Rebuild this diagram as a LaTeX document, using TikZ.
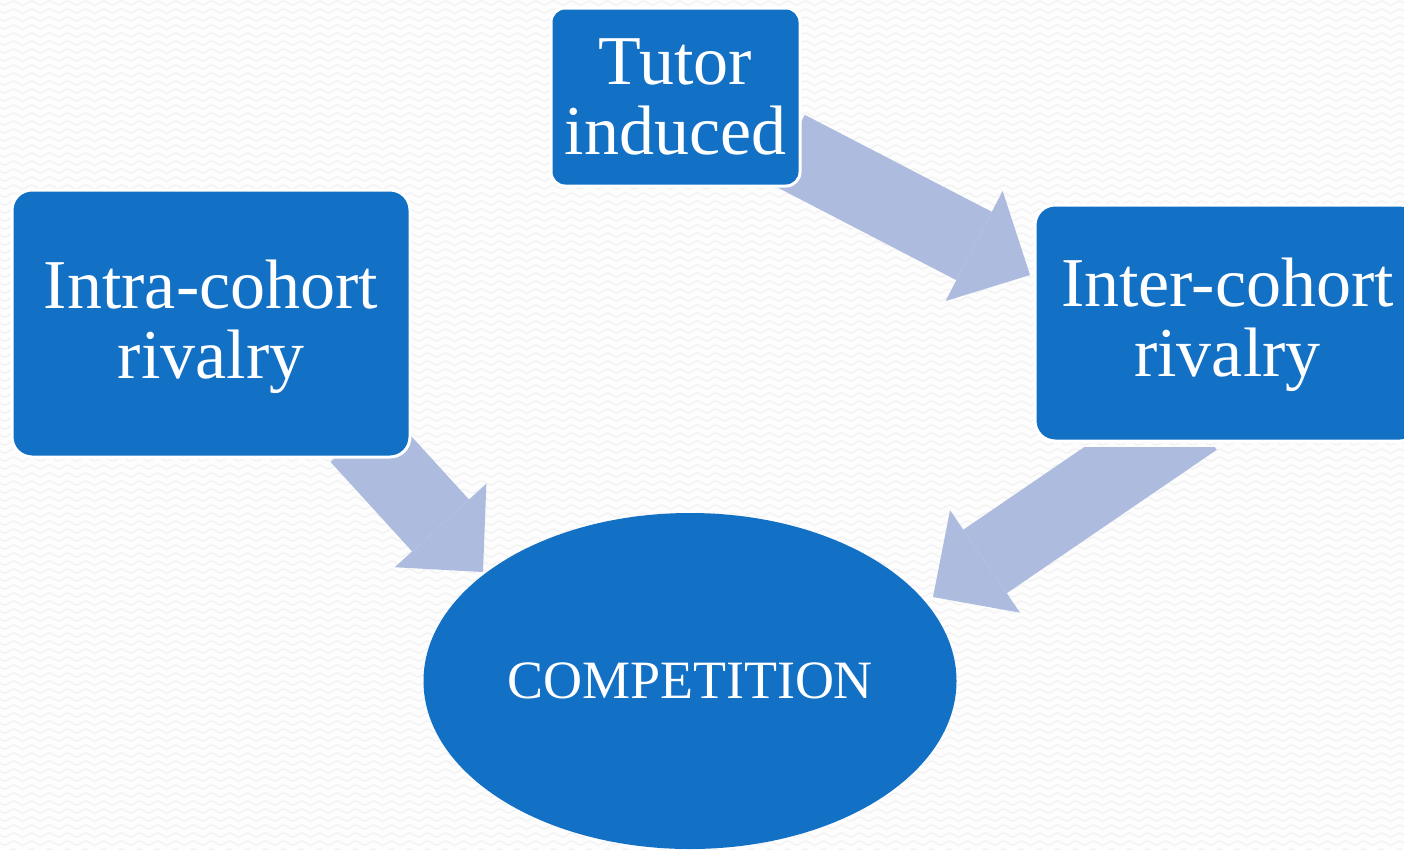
\documentclass[tikz,border=0pt]{standalone}
\usepackage{fontspec}
\setmainfont{Liberation Serif}
\usetikzlibrary{arrows.meta,shapes.geometric}
\definecolor{boxblue}{HTML}{1270C5}
\definecolor{arrowc}{HTML}{ADBBDF}
\definecolor{bgc}{HTML}{FDFDFD}
\definecolor{wavec}{HTML}{F2F2F2}
\tikzset{
  box/.style={rectangle, rounded corners=#1, fill=boxblue, draw=white, line width=3pt,
    text=white, align=center, inner sep=0pt, font=\fontsize{70}{70}\selectfont},
  oval/.style={ellipse, fill=boxblue, text=white, inner sep=0pt,
    font=\fontsize{54}{60}\selectfont},
  blockarrow/.style={draw=arrowc, line width=77pt,
    -{Triangle[length=63pt,width=124pt,line width=0pt]}},
  bgwave/.style={draw=wavec, line width=1.3pt}
}
\begin{document}
\begin{tikzpicture}[x=1pt,y=-1pt]
\useasboundingbox (0,0) rectangle (1404,849);
\clip (0,0) rectangle (1404,849);
\fill[bgc] (0,0) rectangle (1404,849);
\foreach \r in {0,...,106}{
  \draw[bgwave] (0,\r*8+3) \foreach \k in {0,...,78}{ sin ++(4.5,2) cos ++(4.5,-2) sin ++(4.5,-2) cos ++(4.5,2) };
}
% arrow end points
\coordinate (a1s) at (787,149);
\coordinate (a1e) at (1030,275);
\coordinate (a2s) at (1195,418);
\coordinate (a2e) at (933,597);
\coordinate (a3s) at (359,436);
\coordinate (a3e) at (483,572);
\draw[blockarrow] (a1s) -- (a1e);
\begin{scope}
  \clip (0,447) rectangle (1404,849);
  \draw[blockarrow] (a2s) -- (a2e);
\end{scope}
\draw[blockarrow] (a3s) -- (a3e);
% boxes
\node[box=14pt, minimum width=249pt, minimum height=178pt] (tutor) at (675.5,97) {Tutor\\induced};
\node[box=20pt, minimum width=398pt, minimum height=267pt, text depth=0pt] (intra) at (211,323.5) {};
\node[font=\fontsize{70}{70}\selectfont, text=white, align=center, inner sep=0pt] (intratext) at (211,326.5) {Intra-cohort\\rivalry};
\node[box=20pt, minimum width=385pt, minimum height=236pt] (inter) at (1227.5,323) {};
\node[font=\fontsize{70}{70}\selectfont, text=white, align=center, inner sep=0pt] (intertext) at (1227.5,325) {Inter-cohort\\rivalry};
\node[oval, minimum width=533pt, minimum height=336pt] (comp) at (690,681) {COMPETITION};
\end{tikzpicture}
\end{document}
